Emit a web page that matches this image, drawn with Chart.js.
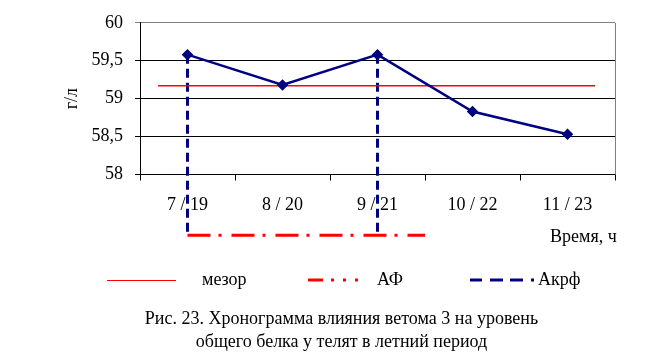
<!DOCTYPE html>
<html>
<head>
<meta charset="utf-8">
<script src="https://cdn.jsdelivr.net/npm/chart.js@4"></script>
<style>
  body { margin: 0; background: #fff; }
  #wrap { position: relative; width: 648px; height: 360px; font-family: "Liberation Serif", "Times New Roman", serif; color: #000; }
  #chart { position: absolute; left: 0; top: 0; }
  .t { position: absolute; font-size: 18px; line-height: 20px; white-space: nowrap; }
  #legend { position: absolute; left: 0; top: 0; }
  .cap { position: absolute; left: 0; width: 683px; text-align: center; font-size: 18px; line-height: 20px; }
</style>
</head>
<body>
<div id="wrap">
  <canvas id="chart" width="648" height="360"></canvas>
  <div class="t" style="left:550px; top:226px;">Время, ч</div>
  <svg id="legend" width="648" height="360">
    <line x1="107" y1="280.5" x2="176" y2="280.5" stroke="#ff0000" stroke-width="1"/>
    <line x1="308" y1="280" x2="360" y2="280" stroke="#ff0000" stroke-width="3" stroke-dasharray="15,8,3,9,3,9,3"/>
    <line x1="470" y1="280" x2="534" y2="280" stroke="#000080" stroke-width="3" stroke-dasharray="12,8,13,7,13,8,3"/>
  </svg>
  <div class="t" style="left:202px; top:269px;">мезор</div>
  <div class="t" style="left:377px; top:269px;">АФ</div>
  <div class="t" style="left:538px; top:269px;">Акрф</div>
  <div class="cap" style="top:308px;">Рис. 23. Хронограмма влияния ветома 3 на уровень</div>
  <div class="cap" style="top:331px;">общего белка у телят в летний период</div>
</div>
<script>
// данные с графика
const times = ['7 / 19', '8 / 20', '9 / 21', '10 / 22', '11 / 23'];
const protein = [59.58, 59.18, 59.58, 58.83, 58.53];
const mesor = 59.17;
const acrophases = [0, 2];   // индексы точек акрофазы
const yTicks = [58, 58.5, 59, 59.5, 60];

const navy = '#000080';
const red = '#ff0000';
const lowY = 57.2; // уровень линии АФ под осью

const acrLines = acrophases.map(i => ({
  type: 'line',
  xAxisID: 'x2',
  data: [{ x: i, y: protein[i] }, { x: i, y: lowY }],
  borderColor: navy,
  borderWidth: 3,
  borderDash: [9, 5],
  pointRadius: 0,
  clip: false
}));

const chart = new Chart(document.getElementById('chart'), {
  type: 'line',
  data: {
    labels: times,
    datasets: [
      {
        data: protein,
        borderColor: navy,
        backgroundColor: navy,
        borderWidth: 2.5,
        pointStyle: 'rectRot',
        pointRadius: 4,
        tension: 0
      },
      {
        xAxisID: 'x2',
        data: [{ x: -0.31, y: mesor }, { x: 4.29, y: mesor }],
        borderColor: red,
        borderWidth: 1.3,
        pointRadius: 0
      },
      ...acrLines,
      {
        xAxisID: 'x2',
        data: [{ x: acrophases[0], y: lowY }, { x: 2.5, y: lowY }],
        borderColor: red,
        borderWidth: 3,
        borderDash: [23, 8, 3, 10],
        pointRadius: 0,
        clip: false
      }
    ]
  },
  options: {
    responsive: false,
    animation: false,
    devicePixelRatio: 1,
    layout: { padding: { left: 0, top: 20, right: 33, bottom: 145.5 } },
    plugins: { legend: { display: false }, tooltip: { enabled: false } },
    scales: {
      x: {
        type: 'category',
        offset: true,
        afterFit: s => { s.height = 40; },
        grid: { offset: true, drawOnChartArea: false, drawTicks: true, tickLength: 6, color: '#000' },
        border: { display: true, color: '#000', width: 1 },
        ticks: { color: '#000', padding: 14, font: { family: 'Liberation Serif', size: 18 } }
      },
      x2: {
        type: 'linear',
        display: false,
        min: -0.5,
        max: 4.5
      },
      y: {
        min: 58,
        max: 60,
        afterFit: s => { s.width = 140; },
        afterBuildTicks: s => { s.ticks = yTicks.map(v => ({ value: v })); },
        grid: {
          color: c => (c.tick && c.tick.value === 60 ? '#808080' : '#000'),
          tickLength: 5,
          lineWidth: 1
        },
        border: { display: true, color: '#000', width: 1 },
        ticks: {
          color: '#000',
          padding: 12,
          font: { family: 'Liberation Serif', size: 18 },
          callback: v => String(v).replace('.', ',')
        },
        title: {
          display: true,
          text: 'г/л',
          color: '#000',
          padding: { top: 61, bottom: 0 },
          font: { family: 'Liberation Serif', size: 18 }
        }
      }
    }
  },
  plugins: [{
    id: 'rightBorder',
    beforeDatasetsDraw(c) {
      const a = c.chartArea, ctx = c.ctx;
      ctx.save();
      ctx.strokeStyle = '#808080';
      ctx.lineWidth = 1;
      ctx.beginPath();
      ctx.moveTo(Math.round(a.right) + 0.5, a.top);
      ctx.lineTo(Math.round(a.right) + 0.5, a.bottom);
      ctx.stroke();
      ctx.restore();
    }
  }]
});
</script>
</body>
</html>
